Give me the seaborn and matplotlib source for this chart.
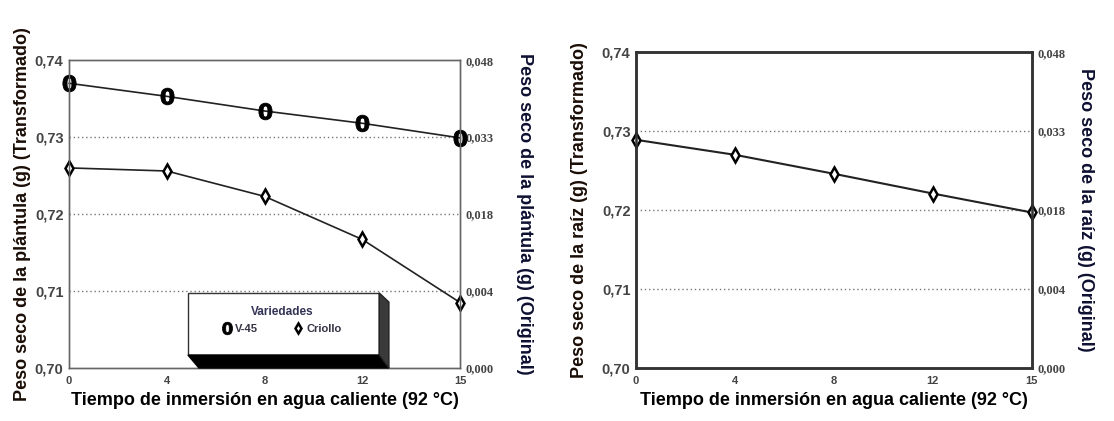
import numpy as np
import pandas as pd
import seaborn as sns
import matplotlib.pyplot as plt
from matplotlib.patches import Rectangle, Polygon

# data
tiempos = ["0", "4", "8", "12", "15"]
v45 = [0.7370, 0.7353, 0.7334, 0.7318, 0.7299]
criollo = [0.7260, 0.7256, 0.7223, 0.7167, 0.7085]
raiz = [0.7289, 0.7270, 0.7246, 0.7221, 0.7197]

yticks = [0.70, 0.71, 0.72, 0.73, 0.74]
yticklabels = ["0,70", "0,71", "0,72", "0,73", "0,74"]
orig_labels = ["0,000", "0,004", "0,018", "0,033", "0,048"]

sns.set_style("white")
plt.rcParams['font.family'] = ['Liberation Sans', 'DejaVu Sans']

fig = plt.figure(figsize=(11.14, 4.21), dpi=100)
ax1 = fig.add_axes([0.062, 0.126, 0.351, 0.731])
ax2 = fig.add_axes([0.571, 0.126, 0.355, 0.750])

df1 = pd.DataFrame({"t": tiempos, "V-45": v45, "Criollo": criollo})
df2 = pd.DataFrame({"t": tiempos, "raiz": raiz})

marker0 = r"$\mathbf{0}$"
dstyle = dict(marker="d", markersize=7, markeredgewidth=1.8,
              markerfacecolor="white", markeredgecolor="black",
              sort=False, clip_on=False)

sns.lineplot(data=df1, x="t", y="V-45", ax=ax1, color="#222222", lw=1.2,
             marker=marker0, markersize=12, markeredgewidth=0.6,
             markerfacecolor="black", markeredgecolor="black", sort=False,
             clip_on=False, label="V-45")
sns.lineplot(data=df1, x="t", y="Criollo", ax=ax1, color="#222222", lw=1.2,
             label="Criollo", **dstyle)
sns.lineplot(data=df2, x="t", y="raiz", ax=ax2, color="#222222", lw=1.5,
             legend=False, **dstyle)

ylabels_left = ["Peso seco de la plántula (g) (Transformado)",
                "Peso seco de la raíz (g) (Transformado)"]
ylabels_right = ["Peso seco de la plántula (g) (Original)",
                 "Peso seco de la raíz (g) (Original)"]

for i, ax in enumerate([ax1, ax2]):
    ax.set_xlim(0, 4)
    ax.set_ylim(0.70, 0.74)
    ax.set_yticks(yticks)
    ax.set_yticklabels(yticklabels, fontsize=10.5, fontweight="bold", color="#444444")
    for lab in ax.get_xticklabels():
        lab.set_fontsize(8)
        lab.set_fontweight("bold")
        lab.set_color("#444444")
    ax.tick_params(axis="both", length=0)
    ax.tick_params(axis="x", pad=6)
    ax.tick_params(axis="y", pad=4)
    for y in [0.71, 0.72, 0.73]:
        ax.axhline(y, color="#777777", ls=(0, (1, 2)), lw=1, zorder=0)
    ax.set_xlabel("Tiempo de inmersión en agua caliente (92 °C)",
                  fontsize=13, fontweight="bold", color="black", labelpad=4)
    ax.set_ylabel(ylabels_left[i], fontsize=13, fontweight="bold",
                  color="#1a0d05", labelpad=3 if i == 0 else 10)
    tw = ax.twinx()
    tw.set_ylim(0.70, 0.74)
    tw.set_yticks(yticks)
    tw.set_yticklabels(orig_labels, fontsize=9, fontweight="bold",
                       color="#444444", family="Liberation Serif")
    tw.tick_params(axis="y", length=0, pad=4)
    tw.set_ylabel(ylabels_right[i], fontsize=13, fontweight="bold",
                  color="#0d1030", rotation=270, labelpad=28 if i == 0 else 21)
    lw = 1.0 if i == 0 else 1.8
    col = "#666666" if i == 0 else "#333333"
    for a in [ax, tw]:
        for s in a.spines.values():
            s.set_linewidth(lw)
            s.set_color(col)
    ax.set_zorder(tw.get_zorder() + 1)
    ax.patch.set_visible(False)

# 3D-looking legend box
tr = ax1.transAxes
ax1.add_patch(Rectangle((0.304, 0.042), 0.489, 0.202, transform=tr,
                        facecolor="white", edgecolor="#333333", lw=1.0, zorder=4))
ax1.add_patch(Polygon([(0.304, 0.042), (0.793, 0.042), (0.818, 0.0), (0.332, 0.0)],
                      closed=True, transform=tr, facecolor="black",
                      edgecolor="black", zorder=4, clip_on=False))
ax1.add_patch(Polygon([(0.793, 0.244), (0.818, 0.214), (0.818, 0.0), (0.793, 0.042)],
                      closed=True, transform=tr, facecolor="#3a3a3a",
                      edgecolor="#222222", zorder=4, clip_on=False))

leg = ax1.legend(title="Variedades", loc="center",
                 bbox_to_anchor=(0.545, 0.155), ncol=2, frameon=False,
                 fontsize=8, title_fontsize=8.5, handlelength=0.8,
                 handletextpad=0.3, borderpad=0.2, columnspacing=3.2,
                 markerscale=0.75)
leg.set_zorder(5)
for t in leg.get_texts():
    t.set_fontweight("bold")
    t.set_color("#333344")
leg.get_title().set_fontweight("bold")
leg.get_title().set_color("#333355")
for h in leg.legend_handles:
    h.set_linestyle("none")

fig.savefig("out.png", dpi=100)
